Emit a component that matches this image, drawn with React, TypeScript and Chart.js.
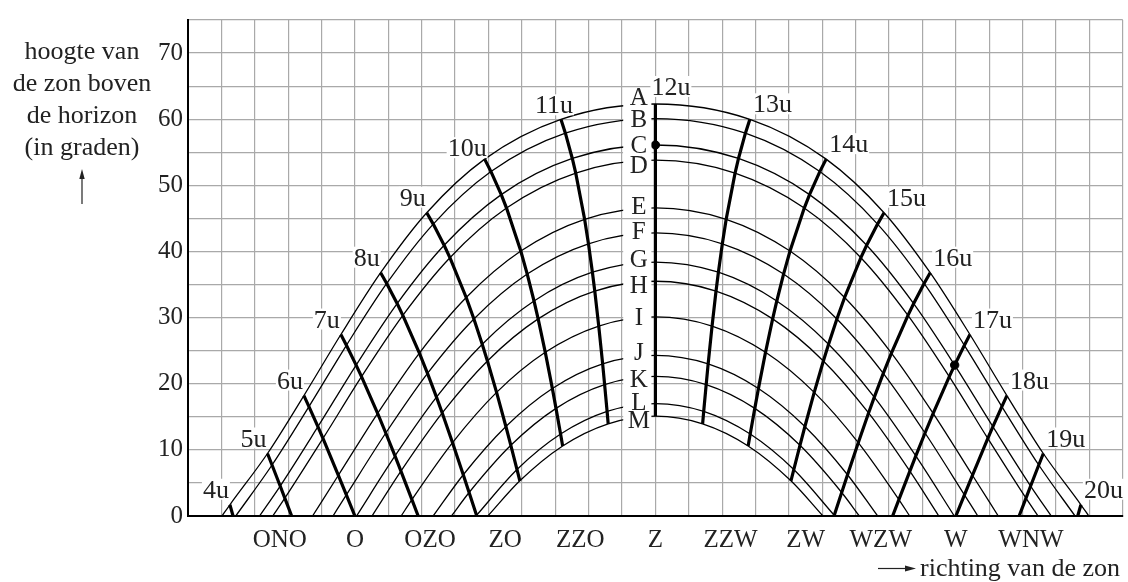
import React, { useEffect, useRef } from 'react';
import { Chart, registerables } from 'chart.js';

Chart.register(...registerables);

const FONT = "'Liberation Serif', 'Times New Roman', serif";
const TEXT = '#222222';
const GRID = '#a9a9a9';

// Day curves (A..M) and clock hours (4u..20u)
const dayNames = ['A', 'B', 'C', 'D', 'E', 'F', 'G', 'H', 'I', 'J', 'K', 'L', 'M'];
const hours = [4, 5, 6, 7, 8, 9, 10, 11, 12, 13, 14, 15, 16, 17, 18, 19, 20];
const hourNames = ['4u', '5u', '6u', '7u', '8u', '9u', '10u', '11u', '12u', '13u', '14u', '15u', '16u', '17u', '18u', '19u', '20u'];

// Direction (azimuth, degrees) and height (degrees) of the sun per hour 4u..20u; null = below horizon
const azA = [52.55, 63.81, 74.72, 85.79, 97.7, 111.51, 128.85, 151.7, 180, 208.3, 231.15, 248.49, 262.3, 274.21, 285.28, 296.19, 307.45];
const altA = [1.7, 9.45, 18.21, 27.44, 36.79, 45.86, 53.96, 59.98, 62.3, 59.98, 53.96, 45.86, 36.79, 27.44, 18.21, 9.45, 1.7];
const azB = [null, 65.17, 76.23, 87.45, 99.52, 113.46, 130.75, 153.04, 180, 206.96, 229.25, 246.54, 260.48, 272.55, 283.77, 294.83, null];
const altB = [null, 7.71, 16.55, 25.81, 35.16, 44.14, 52.08, 57.89, 60.1, 57.89, 52.08, 44.14, 35.16, 25.81, 16.55, 7.71, null];
const azC = [null, 67.61, 78.91, 90.36, 102.64, 116.72, 133.83, 155.11, 180, 204.89, 226.17, 243.28, 257.36, 269.64, 281.09, 292.39, null];
const altC = [null, 4.53, 13.5, 22.82, 32.12, 40.94, 48.6, 54.06, 56.1, 54.06, 48.6, 40.94, 32.12, 22.82, 13.5, 4.53, null];
const azD = [null, 69.0, 80.43, 91.97, 104.35, 118.45, 135.41, 156.14, 180, 203.86, 224.59, 241.55, 255.65, 268.03, 279.57, 291.0, null];
const altD = [null, 2.7, 11.73, 21.07, 30.34, 39.06, 46.56, 51.85, 53.8, 51.85, 46.56, 39.06, 30.34, 21.07, 11.73, 2.7, null];
const azE = [null, null, 85.04, 96.8, 109.31, 123.33, 139.68, 158.8, 180, 201.2, 220.32, 236.67, 250.69, 263.2, 274.96, null, null];
const altE = [null, null, 6.16, 15.52, 24.64, 33.04, 40.06, 44.87, 46.6, 44.87, 40.06, 33.04, 24.64, 15.52, 6.16, null, null];
const azF = [null, null, 87.43, 99.24, 111.74, 125.64, 141.61, 159.95, 180, 200.05, 218.39, 234.36, 248.26, 260.76, 272.57, null, null];
const altF = [null, null, 3.2, 12.55, 21.57, 29.79, 36.58, 41.16, 42.8, 41.16, 36.58, 29.79, 21.57, 12.55, 3.2, null, null];
const azG = [null, null, null, 102.0, 114.43, 128.13, 143.64, 161.13, 180, 198.87, 216.36, 231.87, 245.57, 258.0, null, null, null];
const altG = [null, null, null, 9.08, 17.97, 25.98, 32.51, 36.86, 38.4, 36.86, 32.51, 25.98, 17.97, 9.08, null, null, null];
const azH = [null, null, null, 103.78, 116.15, 129.69, 144.88, 161.84, 180, 198.16, 215.12, 230.31, 243.85, 256.22, null, null, null];
const altH = [null, null, null, 6.78, 15.58, 23.45, 29.81, 34.02, 35.5, 34.02, 29.81, 23.45, 15.58, 6.78, null, null, null];
const azI = [null, null, null, 107.07, 119.24, 132.43, 147.02, 163.03, 180, 196.97, 212.98, 227.57, 240.76, 252.93, null, null, null];
const altI = [null, null, null, 2.48, 11.09, 18.69, 24.75, 28.72, 30.1, 28.72, 24.75, 18.69, 11.09, 2.48, null, null, null];
const azJ = [null, null, null, null, 122.45, 135.22, 149.13, 164.2, 180, 195.8, 210.87, 224.78, 237.55, null, null, null, null];
const altJ = [null, null, null, null, 6.24, 13.54, 19.29, 23.01, 24.3, 23.01, 19.29, 13.54, 6.24, null, null, null, null];
const azK = [null, null, null, null, 124.2, 136.7, 150.23, 164.79, 180, 195.21, 209.77, 223.3, 235.8, null, null, null, null];
const altK = [null, null, null, null, 3.55, 10.69, 16.27, 19.86, 21.1, 19.86, 16.27, 10.69, 3.55, null, null, null, null];
const azL = [null, null, null, null, null, 138.55, 151.6, 165.53, 180, 194.47, 208.4, 221.45, null, null, null, null, null];
const altL = [null, null, null, null, null, 7.02, 12.39, 15.82, 17.0, 15.82, 12.39, 7.02, null, null, null, null, null];
const azM = [null, null, null, null, null, 139.4, 152.22, 165.86, 180, 194.14, 207.78, 220.6, null, null, null, null, null];
const altM = [null, null, null, null, null, 5.32, 10.59, 13.94, 15.1, 13.94, 10.59, 5.32, null, null, null, null, null];

// Sunrise / sunset direction per day (height 0)
const sunriseAz = [50.18, 54.3, 61.43, 65.38, 77.3, 83.43, 90.48, 95.12, 103.84, 113.44, 118.92, 126.26, 129.82];
const sunsetAz = [309.82, 305.7, 298.57, 294.62, 282.7, 276.57, 269.52, 264.88, 256.16, 246.56, 241.08, 233.74, 230.18];

// Where an hour line meets the horizon (null = line ends on curve M)
const hourFootAz = [53.5, 71.05, 90.0, 108.95, 126.5, null, null, null, null, null, null, null, 233.5, 251.05, 270.0, 288.95, 306.5];

// Marked points: [day index, hour]
const markedDay = [2, 2];
const markedHour = [12, 17];

// Direction tick labels
const dirValues = [67.5, 90, 112.5, 135, 157.5, 180, 202.5, 225, 247.5, 270, 292.5];
const dirNames = ['ONO', 'O', 'OZO', 'ZO', 'ZZO', 'Z', 'ZZW', 'ZW', 'WZW', 'W', 'WNW'];

const yTitleLines = ['hoogte van', 'de zon boven', 'de horizon', '(in graden)'];
const xTitle = 'richting van de zon';

const dayAz = [azA, azB, azC, azD, azE, azF, azG, azH, azI, azJ, azK, azL, azM];
const dayAlt = [altA, altB, altC, altD, altE, altF, altG, altH, altI, altJ, altK, altL, altM];

// layout tweaks for the letter labels (pixel shift of letter vs curve)
const letterDy = [-7, 0, 0, 4, -2, -2, -3, 3, 0, -4, 2, -2, 4];

const overlayPlugin = {
  id: 'overlay',
  afterDatasetsDraw(chart: any) {
    const { ctx, scales } = chart;
    const xs = scales.x;
    const ys = scales.y;
    ctx.save();

    // day letters with white boxes
    const bx0 = xs.getPixelForValue(170) + 1.2;
    const bx1 = xs.getPixelForValue(180) - 4;
    const cx = (bx0 + bx1) / 2 + 1.5;
    const noonIdx = hours.indexOf(12);
    ctx.fillStyle = '#fff';
    dayNames.forEach((_, d) => {
      const cy = ys.getPixelForValue(dayAlt[d][noonIdx]);
      const ty = cy + letterDy[d];
      const top = Math.min(cy, ty) - 9;
      const bot = Math.max(cy, ty) + 9;
      ctx.fillRect(bx0, top, bx1 - bx0, bot - top);
    });
    ctx.font = `25px ${FONT}`;
    ctx.fillStyle = TEXT;
    ctx.textAlign = 'center';
    ctx.textBaseline = 'alphabetic';
    dayNames.forEach((name, d) => {
      const cy = ys.getPixelForValue(dayAlt[d][noonIdx]);
      const ty = cy + letterDy[d];
      ctx.fillText(name, cx, ty + 8.3);
    });

    // hour labels at the top curve
    ctx.font = `26px ${FONT}`;
    hours.forEach((h, i) => {
      const px = xs.getPixelForValue(dayAz[0][i]);
      const py = ys.getPixelForValue(dayAlt[0][i]);
      let align: CanvasTextAlign = 'left';
      let x = px + 3;
      let base = py - 7;
      if (h < 10) { align = 'right'; x = px - 1; base = py - 7; }
      else if (h === 10) { align = 'right'; x = px + 2; base = py - 3; }
      else if (h === 11) { align = 'right'; x = px + 12; base = py - 6; }
      else if (h === 12) { align = 'left'; x = px - 4; base = py - 9; }
      const w = ctx.measureText(hourNames[i]).width;
      const left = align === 'right' ? x - w : x;
      ctx.fillStyle = '#fff';
      ctx.fillRect(left - 1, base - 19, w + 2, 21);
      ctx.fillStyle = TEXT;
      ctx.textAlign = align;
      ctx.fillText(hourNames[i], x, base);
    });

    // y title
    ctx.font = `26px ${FONT}`;
    ctx.textAlign = 'center';
    ctx.fillStyle = TEXT;
    yTitleLines.forEach((t, i) => ctx.fillText(t, 82, 58.5 + 32.2 * i));
    ctx.strokeStyle = TEXT;
    ctx.lineWidth = 1.2;
    ctx.beginPath();
    ctx.moveTo(82, 204);
    ctx.lineTo(82, 175);
    ctx.stroke();
    ctx.beginPath();
    ctx.moveTo(82, 169);
    ctx.lineTo(79.3, 179);
    ctx.lineTo(84.7, 179);
    ctx.closePath();
    ctx.fill();

    // x title
    ctx.beginPath();
    ctx.moveTo(878, 568.5);
    ctx.lineTo(908, 568.5);
    ctx.stroke();
    ctx.beginPath();
    ctx.moveTo(916, 568.5);
    ctx.lineTo(905, 565.5);
    ctx.lineTo(905, 571.5);
    ctx.closePath();
    ctx.fill();
    ctx.textAlign = 'left';
    ctx.fillText(xTitle, 920, 576);

    ctx.restore();
  },
};

function buildDatasets() {
  const dayCurves = dayNames.map((name, d) => {
    const pts: { x: number; y: number }[] = [{ x: sunriseAz[d], y: 0 }];
    hours.forEach((_, i) => {
      const az = dayAz[d][i];
      const alt = dayAlt[d][i];
      if (az !== null && alt !== null) pts.push({ x: az, y: alt });
    });
    pts.push({ x: sunsetAz[d], y: 0 });
    return {
      label: name,
      data: pts,
      borderColor: '#000',
      borderWidth: 1.3,
      pointRadius: 0,
      cubicInterpolationMode: 'monotone' as const,
      fill: false,
      order: 3,
    };
  });
  const hourLines = hours.map((h, i) => {
    const pts: { x: number; y: number }[] = [];
    dayNames.forEach((_, d) => {
      const az = dayAz[d][i];
      const alt = dayAlt[d][i];
      if (az !== null && alt !== null) pts.push({ x: az, y: alt });
    });
    if (hourFootAz[i] !== null) pts.push({ x: hourFootAz[i] as number, y: 0 });
    return {
      label: hourNames[i],
      data: pts,
      borderColor: '#000',
      borderWidth: 3.2,
      pointRadius: 0,
      tension: 0,
      fill: false,
      order: 2,
    };
  });
  const dots = {
    label: 'punten',
    data: markedDay.map((d, k) => {
      const i = hours.indexOf(markedHour[k]);
      return { x: dayAz[d][i] as number, y: dayAlt[d][i] as number };
    }),
    showLine: false,
    pointRadius: 4.2,
    pointBackgroundColor: '#000',
    pointBorderColor: '#000',
    borderColor: '#000',
    order: 1,
  };
  return [dots, ...hourLines, ...dayCurves];
}

export default function App() {
  const ref = useRef<HTMLCanvasElement | null>(null);
  useEffect(() => {
    if (!ref.current) return;
    const chart = new Chart(ref.current, {
      type: 'line',
      data: { datasets: buildDatasets() as any },
      options: {
        responsive: false,
        animation: false,
        devicePixelRatio: 1,
        events: [],
        layout: { padding: { top: 15, right: 5, bottom: 0, left: 0 } },
        plugins: { legend: { display: false }, tooltip: { enabled: false } },
        scales: {
          x: {
            type: 'linear',
            min: 40,
            max: 320,
            ticks: { display: false, stepSize: 10 },
            grid: { color: GRID, lineWidth: 1.2, drawTicks: false },
            border: { color: '#000', width: 2 },
            afterFit: (s: any) => { s.height = 0; },
          },
          x2: {
            type: 'linear',
            axis: 'x',
            position: 'bottom',
            min: 40,
            max: 320,
            grid: { display: false, drawTicks: false },
            border: { display: false },
            afterBuildTicks: (s: any) => { s.ticks = dirValues.map((v) => ({ value: v })); },
            ticks: {
              autoSkip: false,
              maxRotation: 0,
              padding: 9,
              color: TEXT,
              font: { family: FONT, size: 25 },
              callback: (_v: any, i: number) => dirNames[i],
            },
            afterFit: (s: any) => { s.height = 66; },
          },
          y: {
            type: 'linear',
            min: 0,
            max: 75,
            ticks: {
              stepSize: 5,
              autoSkip: false,
              padding: 5,
              color: TEXT,
              font: { family: FONT, size: 25 },
              callback: (v: any) => (Number(v) % 10 === 0 ? String(v) : ''),
            },
            grid: { color: GRID, lineWidth: 1.2, drawTicks: false },
            border: { color: '#000', width: 2 },
            afterFit: (s: any) => { s.width = 188; },
          },
        } as any,
      },
      plugins: [overlayPlugin],
    });
    return () => chart.destroy();
  }, []);
  return (
    <div style={{ position: 'absolute', left: 0, top: 0, width: 1128, height: 582, background: '#fff' }}>
      <canvas ref={ref} width={1128} height={582} style={{ display: 'block' }} />
    </div>
  );
}
